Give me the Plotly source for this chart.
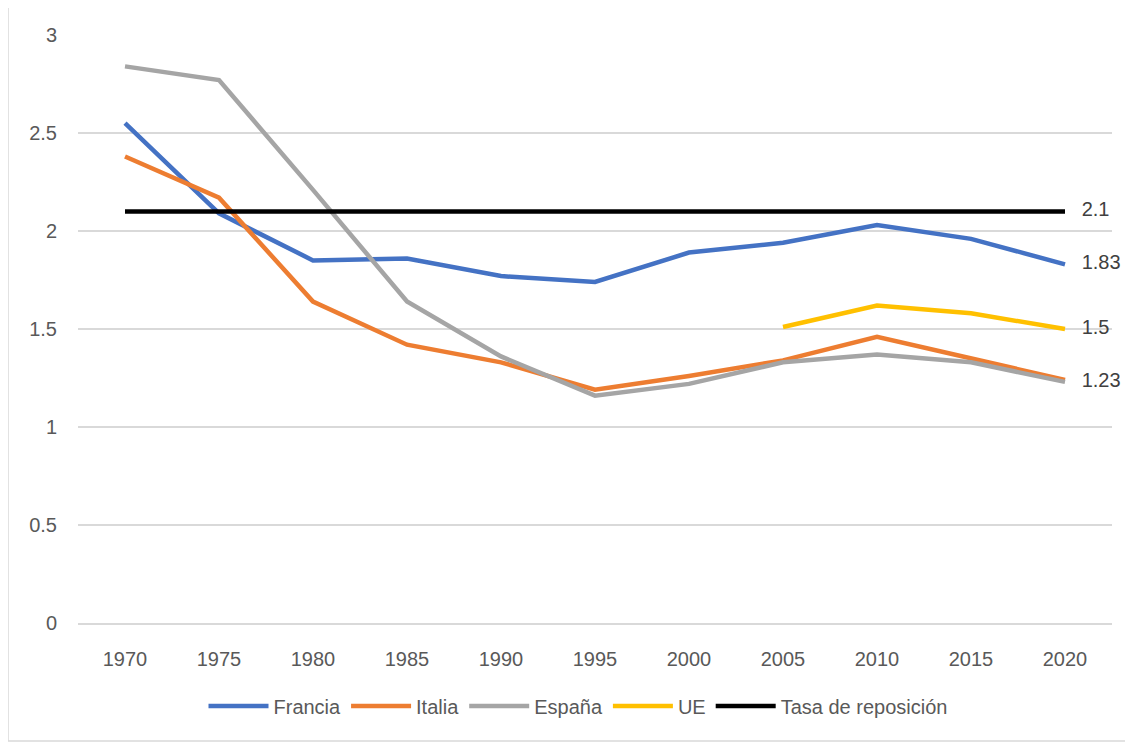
import plotly.graph_objects as go

years = ["1970", "1975", "1980", "1985", "1990", "1995", "2000", "2005", "2010", "2015", "2020"]
francia = [2.55, 2.09, 1.85, 1.86, 1.77, 1.74, 1.89, 1.94, 2.03, 1.96, 1.83]
italia = [2.38, 2.17, 1.64, 1.42, 1.33, 1.19, 1.26, 1.34, 1.46, 1.35, 1.24]
espana = [2.84, 2.77, 2.21, 1.64, 1.36, 1.16, 1.22, 1.33, 1.37, 1.33, 1.23]
ue = [None, None, None, None, None, None, None, 1.51, 1.62, 1.58, 1.50]
tasa = [2.1] * 11

series = [
    ("Francia", francia, "#4472C4", True),
    ("Italia", italia, "#ED7D31", False),
    ("España", espana, "#A5A5A5", True),
    ("UE", ue, "#FFC000", True),
    ("Tasa de reposición", tasa, "#000000", True),
]

FONT = "Liberation Sans"
PAD = "\u00a0\u00a0\u00a0"
fig = go.Figure()
for name, vals, color, label in series:
    texts = [""] * (len(vals) - 1) + [PAD + f"{vals[-1]:g}" if label else ""]
    fig.add_trace(go.Scatter(
        x=years, y=vals, name=name, mode="lines+text",
        line=dict(color=color, width=4.5),
        text=texts, textposition="middle right",
        textfont=dict(family=FONT, size=20, color="#404040"),
        cliponaxis=False, connectgaps=False,
    ))

# page body has an 8px margin; figure coordinates = page - 8
W, H = 1133, 743
L, T = 70, 27
plot_r, plot_b = 1104, 615
R, B = W - plot_r, H - plot_b
pw, ph = plot_r - L, plot_b - T

fig.update_layout(
    width=W, height=H,
    margin=dict(l=L, r=R, t=T, b=B, pad=0),
    paper_bgcolor="white", plot_bgcolor="white",
    font=dict(family=FONT, size=20, color="#595959"),
    xaxis=dict(type="category", range=[-0.5, 10.5], showgrid=False,
               showline=True, linecolor="#d9d9d9", linewidth=1.5,
               ticks="", ticklabelstandoff=17,
               tickfont=dict(family=FONT, size=20, color="#595959")),
    yaxis=dict(range=[0, 3], dtick=0.5, showgrid=True, gridcolor="#d9d9d9",
               gridwidth=1.5, zeroline=False, showline=False, ticks="",
               ticklabelstandoff=20,
               tickfont=dict(family=FONT, size=20, color="#595959")),
    legend=dict(orientation="h", x=(570 - L) / pw, xanchor="center",
                y=(plot_b - 698) / ph, yanchor="middle",
                font=dict(family=FONT, size=20, color="#595959"),
                itemwidth=60, tracegroupgap=0),
    showlegend=True,
)

fig.add_shape(type="rect", xref="paper", yref="paper",
              x0=(0 - L) / pw, x1=(1123 - L) / pw,
              y0=(plot_b - 733) / ph, y1=(plot_b - (-1)) / ph,
              line=dict(color="#d9d9d9", width=1.5), fillcolor="rgba(0,0,0,0)",
              layer="below")

fig.write_html("out.html")
